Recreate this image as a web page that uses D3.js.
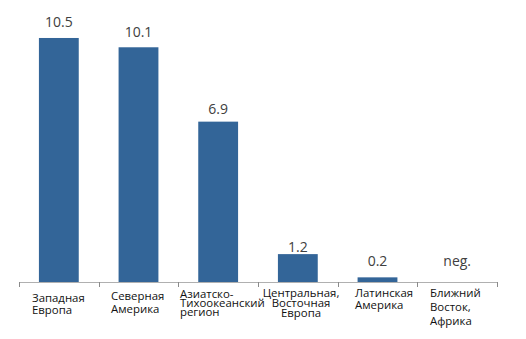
<!DOCTYPE html>
<html><head><meta charset="utf-8">
<script src="https://cdn.jsdelivr.net/npm/d3@7"></script>
<style>html,body{margin:0;padding:0;background:#fff;}svg{display:block;}</style>
</head><body>
<script>
const categories = [
  ["Западная","Европа"],
  ["Северная","Америка"],
  ["Азиатско-","Тихоокеанский","регион"],
  ["Центральная,","Восточная","Европа"],
  ["Латинская","Америка"],
  ["Ближний","Восток,","Африка"]
];
const values = [10.5, 10.1, 6.9, 1.2, 0.2, 0];
const valueLabels = ["10.5","10.1","6.9","1.2","0.2","neg."];

// layout (positions only)
const catLayout = [
  {x:32, y:302, lh:12, anchor:"start"},
  {x:111, y:300, lh:12.6, anchor:"start"},
  {x:180, y:298, lh:9, anchor:"start"},
  {x:301, y:296.5, lh:10, anchor:"middle"},
  {x:355, y:296.5, lh:12.7, anchor:"start"},
  {x:430, y:296.5, lh:14.3, anchor:"start"}
];
const labelGap = [11, 10.6, 7.7, 2, 11, 15.6];

const W = 526, H = 339;
const svg = d3.select("body").append("svg").attr("width", W).attr("height", H);

const ids = d3.range(categories.length);
const x = d3.scaleBand().domain(ids).range([19, 497]).padding(0);
const y = d3.scaleLinear().domain([0, 12]).range([282, 282 - 12 * 23.24]);
const bw = x.bandwidth() * 0.5;

svg.append("g").selectAll("rect").data(ids).join("rect")
  .attr("x", i => x(i) + (x.bandwidth() - bw) / 2)
  .attr("y", i => y(values[i]))
  .attr("width", bw)
  .attr("height", i => y(0) - y(values[i]))
  .attr("fill", "#336598");

// axis line
svg.append("line").attr("x1", 19).attr("x2", 497).attr("y1", y(0) + 0.5).attr("y2", y(0) + 0.5)
  .attr("stroke", "#b0b0b0").attr("stroke-width", 1);
// ticks at band boundaries
const tickXs = ids.map(i => x(i)).concat([x(ids[ids.length - 1]) + x.bandwidth()]);
svg.append("g").selectAll("line").data(tickXs).join("line")
  .attr("x1", d => Math.round(d) + 0.5).attr("x2", d => Math.round(d) + 0.5)
  .attr("y1", y(0)).attr("y2", y(0) + 5)
  .attr("stroke", "#8a8a8a").attr("stroke-width", 1);

// value labels
svg.append("g").selectAll("text").data(ids).join("text")
  .attr("x", i => x(i) + x.bandwidth() / 2)
  .attr("y", i => Math.min(y(values[i]), y(0)) - labelGap[i])
  .attr("text-anchor", "middle")
  .attr("font-family", "'Open Sans', sans-serif")
  .attr("font-size", 14)
  .attr("fill", "#404040")
  .text(i => valueLabels[i]);

// category labels
const cg = svg.append("g");
ids.forEach(i => {
  const L = catLayout[i];
  const t = cg.append("text")
    .attr("font-family", "'Open Sans', sans-serif")
    .attr("font-size", 11.4)
    .attr("fill", "#111")
    .attr("text-anchor", L.anchor);
  categories[i].forEach((line, k) => {
    t.append("tspan").attr("x", L.x).attr("y", L.y + k * L.lh).text(line);
  });
});
</script>
</body></html>
